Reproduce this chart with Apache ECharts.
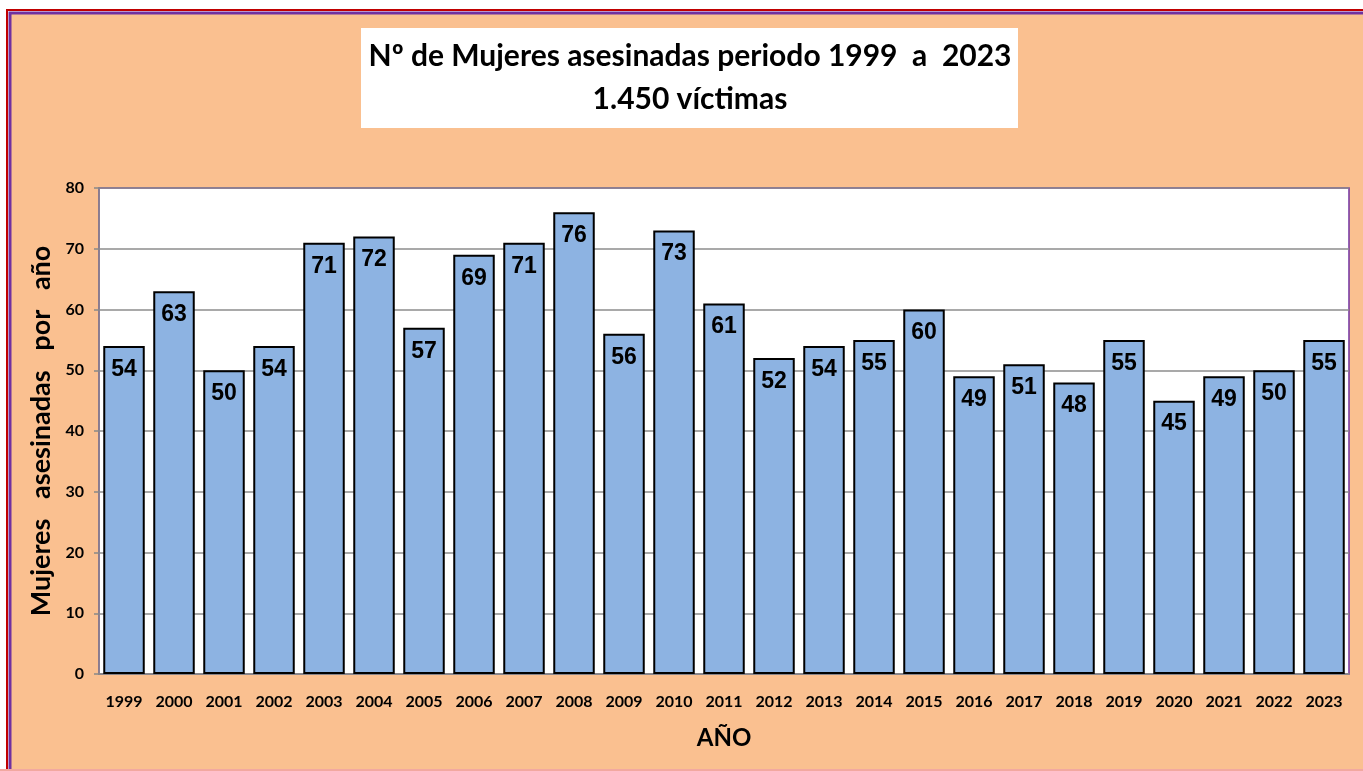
<!DOCTYPE html>
<html>
<head>
<meta charset="utf-8">
<title>Mujeres asesinadas 1999 - 2023</title>
<script src="https://cdn.jsdelivr.net/npm/echarts@6/dist/echarts.min.js"></script>
<style>
    body { margin: 0; background: #fff; }
    #chart { width: 1363px; height: 771px; }
</style>
</head>
<body>
<div id="chart"></div>
<script>
// data
var years = ["1999","2000","2001","2002","2003","2004","2005","2006","2007","2008","2009","2010","2011",
    "2012","2013","2014","2015","2016","2017","2018","2019","2020","2021","2022","2023"];
var victims = [54,63,50,54,71,72,57,69,71,76,56,73,61,52,54,55,60,49,51,48,55,45,49,50,55];
var titleLines = ["Nº de Mujeres asesinadas periodo 1999  a  2023", "1.450 víctimas"];
var yTicks = {min: 0, max: 80, interval: 10};

var labelFont = "Lato, 'Open Sans', sans-serif";
var valueFont = "'Liberation Sans Narrow', 'Liberation Sans', Arial, sans-serif";

function chartInit() {
    var myChart = echarts.init(document.getElementById('chart'));
    var option = {
        backgroundColor: '#ffffff',
        animation: false,
        graphic: [
            // outer frame (runs off the right and bottom edge)
            {type: 'rect', z: -10, shape: {x: 7, y: 10, width: 1400, height: 800},
                style: {fill: 'none', stroke: '#C00000', lineWidth: 2}},
            {type: 'rect', z: -9, shape: {x: 10, y: 13, width: 1400, height: 800},
                style: {fill: '#FAC090', stroke: '#7030A0', lineWidth: 3}},
            {type: 'rect', z: -8, shape: {x: 0, y: 769, width: 1363, height: 2},
                style: {fill: '#F2A8A0'}},
            // title box
            {type: 'rect', z: -8, shape: {x: 361, y: 28, width: 657, height: 100},
                style: {fill: '#ffffff'}},
            {type: 'text', z: 100, x: 690, y: 56,
                style: {text: titleLines[0], fill: '#000', font: "bold 30px " + labelFont,
                    textAlign: 'center', textVerticalAlign: 'middle'}},
            {type: 'text', z: 100, x: 690, y: 99,
                style: {text: titleLines[1], fill: '#000', font: "bold 30px " + labelFont,
                    textAlign: 'center', textVerticalAlign: 'middle'}}
        ],
        grid: {
            left: 99, top: 188, right: 14, bottom: 97,
            show: true,
            backgroundColor: '#ffffff',
            borderColor: '#7030A0',
            borderWidth: 1.5,
            containLabel: false
        },
        xAxis: {
            type: 'category',
            data: years,
            name: 'AÑO',
            nameLocation: 'middle',
            nameGap: 52,
            nameTextStyle: {fontFamily: labelFont, fontWeight: 'bold', fontSize: 24, color: '#000'},
            axisLine: {lineStyle: {color: '#888', width: 1.5}},
            axisTick: {show: false},
            axisLabel: {fontFamily: labelFont, fontWeight: 'bold', fontSize: 16, color: '#000', margin: 20, interval: 0}
        },
        yAxis: {
            type: 'value',
            min: yTicks.min,
            max: yTicks.max,
            interval: yTicks.interval,
            name: 'Mujeres   asesinadas   por   año',
            nameLocation: 'middle',
            nameGap: 42,
            nameTextStyle: {fontFamily: labelFont, fontWeight: 'bold', fontSize: 27, color: '#000'},
            axisLine: {show: true, lineStyle: {color: '#888', width: 1.5}},
            axisTick: {show: true, length: 5, lineStyle: {color: '#888', width: 1.5}},
            axisLabel: {fontFamily: labelFont, fontWeight: 'bold', fontSize: 16, color: '#000', margin: 15},
            splitLine: {lineStyle: {color: '#8c8c8c', width: 1.5}}
        },
        series: [{
            name: 'Mujeres asesinadas',
            type: 'bar',
            data: victims,
            barCategoryGap: '17%',
            itemStyle: {color: '#8DB3E2', borderColor: '#000', borderWidth: 2},
            label: {
                show: true,
                position: 'insideTop',
                distance: 12,
                fontFamily: valueFont,
                fontWeight: 'bold',
                fontSize: 23,
                color: '#000'
            }
        }]
    };
    myChart.setOption(option);
}

chartInit();
</script>
</body>
</html>
